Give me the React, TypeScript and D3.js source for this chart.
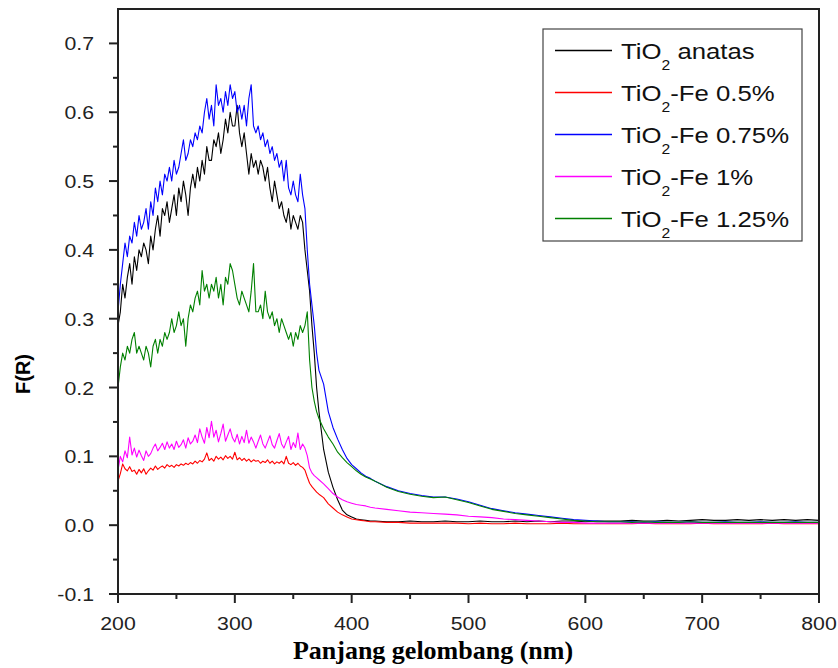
import React from 'react';
import * as d3 from 'd3';

const W = 838;
const H = 668;

// sampling grid (nm)
const WAVELENGTHS: number[] = [
  ...d3.range(200, 371, 2),
  ...d3.range(372, 421, 4),
  ...d3.range(430, 801, 10),
];

const X_TICKS = [200, 300, 400, 500, 600, 700, 800];
const Y_TICKS = [-0.1, 0.0, 0.1, 0.2, 0.3, 0.4, 0.5, 0.6, 0.7];
const X_LABEL = 'Panjang gelombang (nm)';
const Y_LABEL = 'F(R)';

const SERIES_NAMES = ['anatas', '-Fe 0.5%', '-Fe 0.75%', '-Fe 1%', '-Fe 1.25%'];
const SERIES_COLORS = ['#000000', '#ff0000', '#0000ff', '#ff00ff', '#008000'];

const ANATAS = [
  0.29, 0.31, 0.35, 0.33, 0.36, 0.38, 0.35, 0.39, 0.37, 0.40,
  0.39, 0.41, 0.40, 0.38, 0.42, 0.40, 0.43, 0.45, 0.42, 0.46,
  0.45, 0.47, 0.44, 0.46, 0.48, 0.45, 0.49, 0.47, 0.50, 0.48,
  0.45, 0.49, 0.51, 0.49, 0.52, 0.50, 0.53, 0.51, 0.55, 0.53,
  0.53, 0.56, 0.55, 0.57, 0.54, 0.56, 0.59, 0.57, 0.60, 0.58,
  0.58, 0.61, 0.57, 0.55, 0.57, 0.54, 0.51, 0.54, 0.52, 0.53,
  0.51, 0.53, 0.52, 0.50, 0.52, 0.49, 0.47, 0.50, 0.48, 0.46,
  0.47, 0.45, 0.44, 0.46, 0.43, 0.45, 0.44, 0.43, 0.45, 0.44,
  0.40, 0.37, 0.34, 0.29, 0.25, 0.20,
  0.165, 0.11, 0.077, 0.055, 0.037, 0.022, 0.015, 0.012, 0.009, 0.008, 0.007, 0.006, 0.006,
  0.005, 0.005, 0.006, 0.005, 0.005, 0.006, 0.005, 0.005, 0.006, 0.005,
  0.005, 0.006, 0.005, 0.006, 0.005, 0.006, 0.006, 0.005, 0.006, 0.006,
  0.006, 0.007, 0.006, 0.006, 0.007, 0.006, 0.007, 0.008, 0.007, 0.007,
  0.008, 0.007, 0.008, 0.007, 0.008, 0.007, 0.008, 0.007,
];

const FE_050 = [
  0.064, 0.075, 0.089, 0.082, 0.079, 0.085, 0.078, 0.080, 0.074, 0.081,
  0.076, 0.082, 0.074, 0.079, 0.083, 0.080, 0.086, 0.081, 0.084, 0.086,
  0.083, 0.088, 0.085, 0.087, 0.084, 0.088, 0.086, 0.089, 0.087, 0.090,
  0.088, 0.091, 0.089, 0.093, 0.090, 0.094, 0.092, 0.096, 0.105, 0.094,
  0.097, 0.093, 0.100, 0.096, 0.099, 0.095, 0.101, 0.097, 0.100, 0.096,
  0.106, 0.095, 0.098, 0.094, 0.097, 0.093, 0.096, 0.092, 0.095, 0.093,
  0.094, 0.090, 0.093, 0.091, 0.095, 0.090, 0.093, 0.089, 0.092, 0.090,
  0.093, 0.089, 0.100, 0.090, 0.088, 0.091, 0.087, 0.090, 0.086, 0.084,
  0.080, 0.070, 0.061, 0.056, 0.052, 0.048,
  0.045, 0.040, 0.031, 0.025, 0.019, 0.015, 0.012, 0.009, 0.008, 0.007, 0.006, 0.005, 0.005,
  0.004, 0.004, 0.003, 0.003, 0.003, 0.003, 0.003, 0.002, 0.003, 0.002,
  0.002, 0.003, 0.002, 0.002, 0.002, 0.003, 0.002, 0.002, 0.002, 0.002,
  0.002, 0.002, 0.003, 0.002, 0.002, 0.002, 0.002, 0.003, 0.002, 0.002,
  0.002, 0.002, 0.002, 0.003, 0.002, 0.002, 0.002, 0.002,
];

const FE_075 = [
  0.31, 0.35, 0.38, 0.41, 0.39, 0.42, 0.41, 0.44, 0.42, 0.45,
  0.43, 0.44, 0.46, 0.43, 0.47, 0.45, 0.49, 0.47, 0.50, 0.48,
  0.51, 0.50, 0.52, 0.50, 0.53, 0.51, 0.52, 0.54, 0.56, 0.53,
  0.54, 0.56, 0.55, 0.57, 0.56, 0.58, 0.57, 0.60, 0.62, 0.59,
  0.61, 0.58, 0.64, 0.61, 0.62, 0.60, 0.63, 0.61, 0.64, 0.62,
  0.63, 0.60, 0.61, 0.59, 0.61, 0.58, 0.62, 0.64, 0.58, 0.57,
  0.58, 0.56, 0.57, 0.55, 0.56, 0.54, 0.55, 0.53, 0.54, 0.52,
  0.53, 0.50, 0.53, 0.49, 0.48, 0.50, 0.48, 0.47, 0.51, 0.48,
  0.46, 0.40, 0.35, 0.32, 0.29, 0.25,
  0.225, 0.205, 0.165, 0.142, 0.125, 0.110, 0.097, 0.088, 0.082, 0.076, 0.071, 0.068, 0.064,
  0.056, 0.050, 0.046, 0.043, 0.041, 0.041, 0.038, 0.034, 0.029, 0.024,
  0.021, 0.018, 0.016, 0.014, 0.012, 0.010, 0.008, 0.007, 0.006, 0.005,
  0.005, 0.005, 0.004, 0.005, 0.004, 0.004, 0.005, 0.004, 0.004, 0.005,
  0.004, 0.004, 0.005, 0.004, 0.004, 0.005, 0.004, 0.004,
];

const FE_100 = [
  0.080, 0.100, 0.092, 0.108, 0.098, 0.128, 0.102, 0.112, 0.099, 0.109,
  0.101, 0.094, 0.108, 0.100, 0.104, 0.112, 0.118, 0.108, 0.113, 0.119,
  0.110, 0.121, 0.112, 0.118, 0.110, 0.122, 0.113, 0.117, 0.124, 0.112,
  0.127, 0.118, 0.122, 0.131, 0.120, 0.140, 0.128, 0.119, 0.142, 0.127,
  0.151, 0.128, 0.138, 0.121, 0.133, 0.147, 0.122, 0.131, 0.140, 0.127,
  0.121, 0.132, 0.118, 0.129, 0.120, 0.138, 0.119, 0.128, 0.121, 0.112,
  0.122, 0.131, 0.118, 0.112, 0.121, 0.130, 0.117, 0.112, 0.123, 0.133,
  0.118, 0.112, 0.121, 0.129, 0.110, 0.120, 0.113, 0.134, 0.110, 0.118,
  0.112, 0.101, 0.083, 0.076, 0.072, 0.069,
  0.066, 0.060, 0.053, 0.046, 0.041, 0.037, 0.034, 0.032, 0.030, 0.029, 0.028, 0.026, 0.025,
  0.023, 0.021, 0.019, 0.018, 0.017, 0.016, 0.015, 0.013, 0.012, 0.011,
  0.009, 0.008, 0.007, 0.006, 0.005, 0.004, 0.004, 0.003, 0.003, 0.003,
  0.003, 0.003, 0.003, 0.003, 0.003, 0.003, 0.003, 0.003, 0.003, 0.003,
  0.003, 0.003, 0.003, 0.003, 0.003, 0.003, 0.003, 0.003,
];

const FE_125 = [
  0.20, 0.23, 0.25, 0.24, 0.26, 0.25, 0.27, 0.28, 0.25, 0.26,
  0.25, 0.24, 0.26, 0.25, 0.23, 0.26, 0.27, 0.25, 0.27, 0.26,
  0.28, 0.27, 0.28, 0.30, 0.28, 0.29, 0.31, 0.29, 0.30, 0.26,
  0.30, 0.32, 0.31, 0.33, 0.34, 0.32, 0.37, 0.34, 0.35, 0.33,
  0.35, 0.34, 0.36, 0.33, 0.35, 0.32, 0.36, 0.35, 0.38, 0.37,
  0.35, 0.33, 0.32, 0.34, 0.33, 0.32, 0.31, 0.34, 0.38, 0.31,
  0.31, 0.32, 0.30, 0.34, 0.31, 0.30, 0.31, 0.29, 0.30, 0.28,
  0.30, 0.29, 0.28, 0.27, 0.28, 0.26, 0.28, 0.27, 0.29, 0.28,
  0.29, 0.31, 0.24, 0.20, 0.18, 0.165,
  0.155, 0.140, 0.128, 0.118, 0.106, 0.098, 0.091, 0.085, 0.079, 0.074, 0.070, 0.067, 0.064,
  0.055, 0.049, 0.045, 0.042, 0.040, 0.041, 0.037, 0.033, 0.028, 0.023,
  0.020, 0.017, 0.015, 0.013, 0.011, 0.009, 0.007, 0.006, 0.005, 0.005,
  0.005, 0.004, 0.005, 0.004, 0.004, 0.004, 0.005, 0.004, 0.004, 0.004,
  0.004, 0.004, 0.004, 0.004, 0.004, 0.004, 0.004, 0.004,
];

const SERIES_VALUES = [ANATAS, FE_050, FE_075, FE_100, FE_125];

const PLOT = { left: 118, right: 819, top: 9, bottom: 594 };
const SANS = 'Arial, "Liberation Sans", Helvetica, sans-serif';
const SERIF = '"Times New Roman", "Liberation Serif", serif';
const SX = 1.12;

export default function App() {
  const x = d3.scaleLinear().domain([200, 800]).range([PLOT.left, PLOT.right]);
  const y = d3.scaleLinear().domain([-0.1, 0.75]).range([PLOT.bottom, PLOT.top]);

  const line = d3
    .line<number>()
    .x((_, i) => x(WAVELENGTHS[i]))
    .y((d) => y(d));

  const xMinor = d3.range(250, 800, 100);
  const yMinor = d3.range(-0.05, 0.75, 0.1);

  const legend = { x: 543, y: 29, w: 259, h: 212, row0: 49.5, step: 42 };

  return (
    <svg
      width={W}
      height={H}
      style={{ position: 'absolute', left: 0, top: 0, background: '#fff' }}
      fontFamily={SANS}
    >
      <defs>
        <clipPath id="plotclip">
          <rect x={PLOT.left} y={PLOT.top} width={PLOT.right - PLOT.left} height={PLOT.bottom - PLOT.top} />
        </clipPath>
      </defs>
      <rect x={0} y={0} width={W} height={H} fill="#fff" />
      <g clipPath="url(#plotclip)">
        {SERIES_VALUES.map((vals, i) => (
          <path key={'s' + i} d={line(vals) || ''} fill="none" stroke={SERIES_COLORS[i]} strokeWidth={1.1} strokeLinejoin="round" />
        ))}
      </g>

      {/* frame */}
      <rect
        x={PLOT.left}
        y={PLOT.top}
        width={PLOT.right - PLOT.left}
        height={PLOT.bottom - PLOT.top}
        fill="none"
        stroke="#222"
        strokeWidth={2}
      />

      {/* y ticks */}
      {Y_TICKS.map((t) => (
        <g key={'y' + t}>
          <line x1={PLOT.left - 9} x2={PLOT.left} y1={y(t)} y2={y(t)} stroke="#222" strokeWidth={2} />
          <g transform={`translate(94,${y(t) + 7}) scale(${SX},1)`}>
            <text textAnchor="end" fontSize={19} fill="#222">
              {t.toFixed(1)}
            </text>
          </g>
        </g>
      ))}
      {yMinor.map((t) => (
        <line key={'ym' + t} x1={PLOT.left - 5} x2={PLOT.left} y1={y(t)} y2={y(t)} stroke="#222" strokeWidth={2} />
      ))}

      {/* x ticks */}
      {X_TICKS.map((t) => (
        <g key={'x' + t}>
          <line x1={x(t)} x2={x(t)} y1={PLOT.bottom} y2={PLOT.bottom + 9} stroke="#222" strokeWidth={2} />
          <g transform={`translate(${x(t)},630) scale(${SX},1)`}>
            <text textAnchor="middle" fontSize={19} fill="#222">
              {t}
            </text>
          </g>
        </g>
      ))}
      {xMinor.map((t) => (
        <line key={'xm' + t} x1={x(t)} x2={x(t)} y1={PLOT.bottom} y2={PLOT.bottom + 5} stroke="#222" strokeWidth={2} />
      ))}

      {/* axis titles */}
      <text
        x={433}
        y={659}
        textAnchor="middle"
        fontFamily={SERIF}
        fontWeight="bold"
        fontSize={26}
        fill="#000"
      >
        {X_LABEL}
      </text>
      <text
        transform="translate(30,374) rotate(-90)"
        textAnchor="middle"
        fontWeight="bold"
        fontSize={20}
        fill="#000"
      >
        {Y_LABEL}
      </text>

      {/* legend */}
      <rect x={legend.x} y={legend.y} width={legend.w} height={legend.h} fill="#fff" stroke="#444" strokeWidth={1.2} />
      {SERIES_NAMES.map((name, i) => {
        const cy = Math.round(legend.row0 + i * legend.step) + 0.5;
        return (
          <g key={'lg' + i}>
            <rect x={555} y={cy - 0.75} width={57} height={1.5} fill={SERIES_COLORS[i]} />
            <g transform={`translate(621,${cy + 8}) scale(${SX},1)`}>
              <text fontSize={23} fill="#111">
                <tspan>TiO</tspan>
                <tspan fontSize={14} dy={11}>2</tspan>
                <tspan dy={-11}>{name.startsWith('-') ? name : ' ' + name}</tspan>
              </text>
            </g>
          </g>
        );
      })}
    </svg>
  );
}
